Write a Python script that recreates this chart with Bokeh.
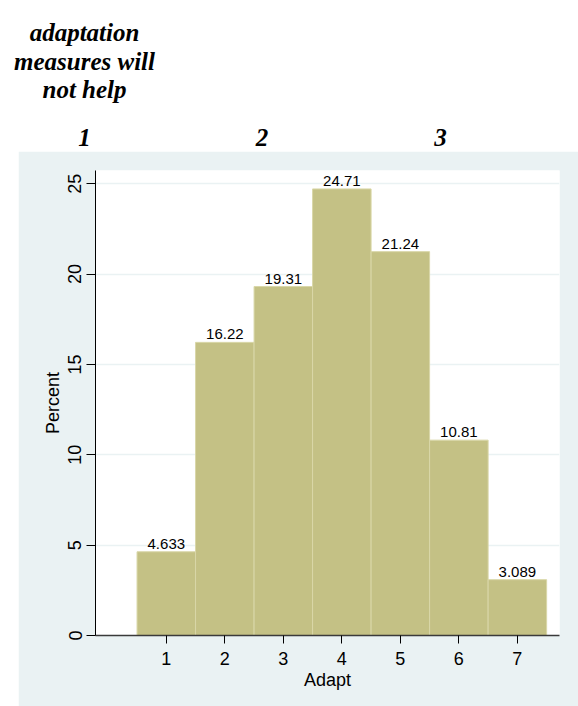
from bokeh.plotting import figure
from bokeh.models import ColumnDataSource, Range1d, FixedTicker, Spacer
from bokeh.layouts import column, row
from bokeh.core.properties import value
from bokeh.embed import file_html
from bokeh.resources import INLINE

# ---- data ----
categories = [1, 2, 3, 4, 5, 6, 7]
percents = [4.633, 16.22, 19.31, 24.71, 21.24, 10.81, 3.089]
y_ticks = [0, 5, 10, 15, 20, 25]
header_lines = ["adaptation", "measures will", "not help"]
header_nums = ["1", "2", "3"]
x_label = "Adapt"
y_label = "Percent"

PANEL = "#eaf2f3"
BAR = "#c4c185"
BAR_LINE = "#d9d7a8"
SANS = "Liberation Sans"
SERIF = "Liberation Serif"

# ---- header (white area above panel) ----
hdr = figure(width=578, height=151, x_range=Range1d(0, 578), y_range=Range1d(151, 0),
             output_backend="svg", toolbar_location=None,
             min_border=0, min_border_left=0, min_border_right=0,
             min_border_top=0, min_border_bottom=0)
hdr.axis.visible = False
hdr.grid.visible = False
hdr.outline_line_color = None
hdr.background_fill_color = "white"
hdr.border_fill_color = "white"

hsrc = ColumnDataSource(dict(x=[84, 84, 84], y=[32, 61, 88.5], t=header_lines))
hdr.text(x="x", y="y", text="t", source=hsrc, text_align="center",
         text_baseline="alphabetic", text_font=value(SERIF),
         text_font_style="bold italic", text_font_size="25px", text_color="black")
nsrc = ColumnDataSource(dict(x=[84, 261.5, 440], y=[136.7, 136.7, 136.7], t=header_nums))
hdr.text(x="x", y="y", text="t", source=nsrc, text_align="center",
         text_baseline="alphabetic", text_font=value(SERIF),
         text_font_style="bold italic", text_font_size="25px", text_color="black")

# ---- main histogram ----
p = figure(width=560, height=555, x_range=Range1d(-0.21, 7.72), y_range=Range1d(0, 25.73),
           output_backend="svg", toolbar_location=None,
           min_border_left=77, min_border_right=19, min_border_top=19, min_border_bottom=71)
p.background_fill_color = "white"
p.border_fill_color = PANEL
p.outline_line_color = None

src = ColumnDataSource(dict(x=categories, top=percents,
                            lab=["{:.4g}".format(v) for v in percents]))
p.vbar(x="x", top="top", bottom=0, width=1.0, source=src,
       fill_color=BAR, line_color=BAR_LINE, line_width=1)
p.text(x="x", y="top", text="lab", source=src, text_align="center",
       text_baseline="alphabetic", y_offset=-8,
       text_font=value(SANS), text_font_size="15px", text_color="black")

p.xgrid.visible = False
p.ygrid.ticker = FixedTicker(ticks=y_ticks)
p.ygrid.grid_line_color = PANEL
p.ygrid.grid_line_width = 1.5

p.xaxis.ticker = FixedTicker(ticks=categories)
p.yaxis.ticker = FixedTicker(ticks=y_ticks)
for ax in (p.xaxis, p.yaxis):
    ax.minor_tick_line_color = None
    ax.major_tick_in = 0
    ax.major_label_text_font = SANS
    ax.major_label_text_font_size = "18px"
    ax.major_label_text_color = "black"
    ax.axis_label_text_font = SANS
    ax.axis_label_text_font_size = "18px"
    ax.axis_label_text_font_style = "normal"
    ax.axis_label_text_color = "black"
    ax.major_tick_line_color = "black"

p.xaxis.axis_label = x_label
p.yaxis.axis_label = y_label
p.yaxis.major_label_orientation = "vertical"
p.yaxis.major_tick_out = 9
p.yaxis.major_label_standoff = 5
p.yaxis.axis_label_standoff = 3
p.yaxis.axis_line_color = "black"
p.xaxis.major_tick_out = 8
p.xaxis.major_label_standoff = 8
p.xaxis.axis_label_standoff = 2
p.xaxis.axis_line_color = "#3a3a3a"
p.xaxis.axis_line_width = 1.5

layout = column(hdr, row(Spacer(width=18, height=555), p))

open("out.html", "w").write(file_html(layout, INLINE))
